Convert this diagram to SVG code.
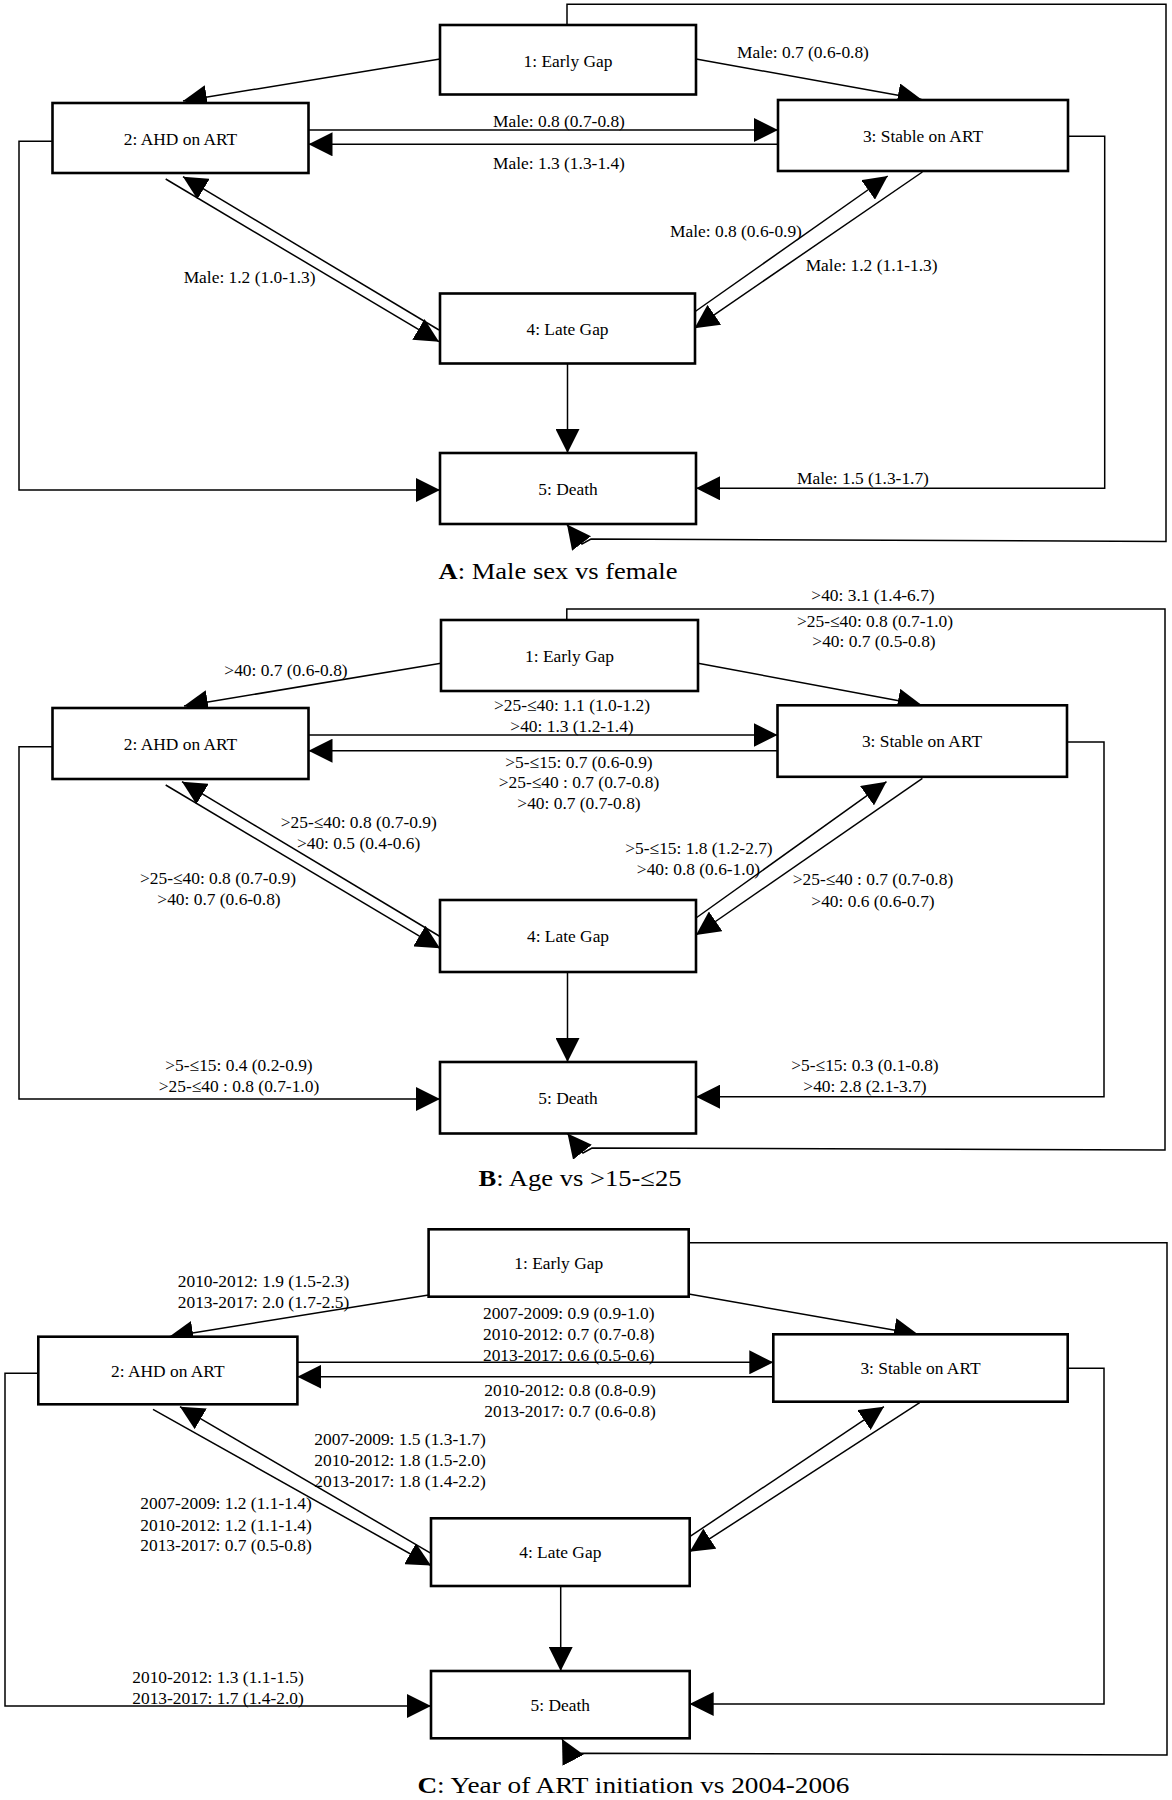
<svg xmlns="http://www.w3.org/2000/svg" width="1172" height="1800" viewBox="0 0 1172 1800">
<style>
.node rect{fill:#fff;stroke:#000;stroke-width:2.6}
.node text,.lbl{font-family:"Liberation Serif","Times New Roman",serif;font-size:17.4px;text-anchor:middle;fill:#000}
.conn path{fill:none;stroke:#000;stroke-width:1.5;marker-end:url(#ah)}
.title{font-family:"Liberation Serif","Times New Roman",serif;font-size:23.5px;text-anchor:middle;fill:#000}
</style>
<defs>
<marker id="ah" markerUnits="userSpaceOnUse" markerWidth="24" markerHeight="24" viewBox="0 0 24 24" refX="24" refY="12" orient="auto">
<path d="M0,0 L24,12 L0,24 z" fill="#000"/>
</marker>
</defs>
<rect width="1172" height="1800" fill="#fff"/>

<!-- Panel A -->
<g class="conn" id="A-connectors">
<path d="M440,59 L183,101"/>
<path d="M696,59 L921.6,99.5"/>
<path d="M308.5,130 H778"/>
<path d="M778,144.3 H308.5"/>
<path d="M165.7,179 L439,341.7"/>
<path d="M439,330 L183,176.7"/>
<path d="M694.5,312 L887.7,176"/>
<path d="M922.4,172 L694.5,328.3"/>
<path d="M567.5,364 V453"/>
<path d="M52.5,141.3 H19 V490 H440"/>
<path d="M1068,136.3 H1104.7 V488.3 H696"/>
<path d="M567,25 V4.3 H1166 V541.5 L591,539 L582,544 L567,524.5"/>
</g>
<g class="node" id="A-n1"><rect x="440" y="25" width="256" height="69.5"/><text x="568" y="66.5">1: Early Gap</text></g>
<g class="node" id="A-n2"><rect x="52.5" y="103" width="256" height="70"/><text x="180.5" y="144.5">2: AHD on ART</text></g>
<g class="node" id="A-n3"><rect x="778" y="100" width="290" height="71"/><text x="923" y="142">3: Stable on ART</text></g>
<g class="node" id="A-n4"><rect x="440" y="293.5" width="255" height="70"/><text x="567.5" y="335">4: Late Gap</text></g>
<g class="node" id="A-n5"><rect x="440" y="453" width="256" height="71"/><text x="568" y="495">5: Death</text></g>
<g id="A-labels">
<text class="lbl" x="803" y="58">Male: 0.7 (0.6-0.8)</text>
<text class="lbl" x="559" y="126.7">Male: 0.8 (0.7-0.8)</text>
<text class="lbl" x="559" y="169">Male: 1.3 (1.3-1.4)</text>
<text class="lbl" x="249.6" y="282.7">Male: 1.2 (1.0-1.3)</text>
<text class="lbl" x="736" y="237">Male: 0.8 (0.6-0.9)</text>
<text class="lbl" x="871.6" y="270.7">Male: 1.2 (1.1-1.3)</text>
<text class="lbl" x="863" y="484">Male: 1.5 (1.3-1.7)</text>
</g>
<text class="title" x="558" y="579" textLength="239" lengthAdjust="spacingAndGlyphs"><tspan font-weight="bold">A</tspan>: Male sex vs female</text>

<!-- Panel B -->
<g class="conn" id="B-connectors">
<path d="M441,663.3 L184,706"/>
<path d="M698,663.3 L921.6,705"/>
<path d="M308.5,735 H777.5"/>
<path d="M777.5,750.7 H308.5"/>
<path d="M165.7,785 L440,948.3"/>
<path d="M440,936.5 L182,781.7"/>
<path d="M696,918 L886.5,781.7"/>
<path d="M922.4,778.3 L696,935"/>
<path d="M567.5,972 V1062"/>
<path d="M52.5,746.7 H19 V1099 H440"/>
<path d="M1067,742 H1104 V1096.7 H696"/>
<path d="M566.8,620 V609 H1165 V1150 L592,1148 L583,1153 L567.5,1133.5"/>
</g>
<g class="node" id="B-n1"><rect x="441" y="620" width="257" height="71"/><text x="569.5" y="662">1: Early Gap</text></g>
<g class="node" id="B-n2"><rect x="52.5" y="708" width="256" height="71"/><text x="180.5" y="750">2: AHD on ART</text></g>
<g class="node" id="B-n3"><rect x="777.5" y="705.3" width="289.5" height="71.5"/><text x="922" y="747">3: Stable on ART</text></g>
<g class="node" id="B-n4"><rect x="440" y="900" width="256" height="72"/><text x="568" y="942">4: Late Gap</text></g>
<g class="node" id="B-n5"><rect x="440" y="1062" width="256" height="71.5"/><text x="568" y="1103.5">5: Death</text></g>
<g id="B-labels">
<text class="lbl" x="873" y="600.7">&gt;40: 3.1 (1.4-6.7)</text>
<text class="lbl" x="875" y="626.7">&gt;25-≤40: 0.8 (0.7-1.0)</text>
<text class="lbl" x="874" y="647.3">&gt;40: 0.7 (0.5-0.8)</text>
<text class="lbl" x="286" y="676">&gt;40: 0.7 (0.6-0.8)</text>
<text class="lbl" x="572" y="711">&gt;25-≤40: 1.1 (1.0-1.2)</text>
<text class="lbl" x="572" y="732.3">&gt;40: 1.3 (1.2-1.4)</text>
<text class="lbl" x="579" y="767.7">&gt;5-≤15: 0.7 (0.6-0.9)</text>
<text class="lbl" x="579" y="788.3">&gt;25-≤40 : 0.7 (0.7-0.8)</text>
<text class="lbl" x="579" y="809.3">&gt;40: 0.7 (0.7-0.8)</text>
<text class="lbl" x="358.8" y="828.3">&gt;25-≤40: 0.8 (0.7-0.9)</text>
<text class="lbl" x="358.6" y="849.3">&gt;40: 0.5 (0.4-0.6)</text>
<text class="lbl" x="699" y="854">&gt;5-≤15: 1.8 (1.2-2.7)</text>
<text class="lbl" x="698.5" y="875">&gt;40: 0.8 (0.6-1.0)</text>
<text class="lbl" x="218" y="884">&gt;25-≤40: 0.8 (0.7-0.9)</text>
<text class="lbl" x="219" y="905">&gt;40: 0.7 (0.6-0.8)</text>
<text class="lbl" x="873" y="885">&gt;25-≤40 : 0.7 (0.7-0.8)</text>
<text class="lbl" x="873" y="906.5">&gt;40: 0.6 (0.6-0.7)</text>
<text class="lbl" x="239" y="1070.7">&gt;5-≤15: 0.4 (0.2-0.9)</text>
<text class="lbl" x="239" y="1091.7">&gt;25-≤40 : 0.8 (0.7-1.0)</text>
<text class="lbl" x="865" y="1070.7">&gt;5-≤15: 0.3 (0.1-0.8)</text>
<text class="lbl" x="865" y="1091.7">&gt;40: 2.8 (2.1-3.7)</text>
</g>
<text class="title" x="580" y="1186" textLength="203" lengthAdjust="spacingAndGlyphs"><tspan font-weight="bold">B</tspan>: Age vs &gt;15-≤25</text>

<!-- Panel C -->
<g class="conn" id="C-connectors">
<path d="M428.6,1295 L169.2,1336.7"/>
<path d="M688.7,1294 L917.9,1334.3"/>
<path d="M297.4,1362.3 H773.3"/>
<path d="M773.3,1376.7 H297.4"/>
<path d="M153,1409.3 L431,1565.5"/>
<path d="M431,1553.3 L180,1406.7"/>
<path d="M689.7,1536.7 L883.9,1406.7"/>
<path d="M919.7,1402.7 L689.7,1551.7"/>
<path d="M560.7,1586 V1671"/>
<path d="M38.3,1373.3 H5 V1706 H431"/>
<path d="M1067.7,1368.3 H1104 V1704 H689.7"/>
<path d="M688.7,1242.7 H1167 V1755 L581,1753.3 L572,1758 L562,1739"/>
</g>
<g class="node" id="C-n1"><rect x="428.6" y="1229.3" width="260.1" height="67.4"/><text x="558.7" y="1269.3">1: Early Gap</text></g>
<g class="node" id="C-n2"><rect x="38.3" y="1336.7" width="259.1" height="67.6"/><text x="167.8" y="1376.7">2: AHD on ART</text></g>
<g class="node" id="C-n3"><rect x="773.3" y="1334.3" width="294.4" height="67.4"/><text x="920.5" y="1374">3: Stable on ART</text></g>
<g class="node" id="C-n4"><rect x="431" y="1518.3" width="258.7" height="67.7"/><text x="560.3" y="1558.3">4: Late Gap</text></g>
<g class="node" id="C-n5"><rect x="431" y="1671" width="258.7" height="67.3"/><text x="560.3" y="1710.7">5: Death</text></g>
<g id="C-labels">
<text class="lbl" x="263.5" y="1287.3">2010-2012: 1.9 (1.5-2.3)</text>
<text class="lbl" x="263.5" y="1308.3">2013-2017: 2.0 (1.7-2.5)</text>
<text class="lbl" x="568.7" y="1319.3">2007-2009: 0.9 (0.9-1.0)</text>
<text class="lbl" x="568.7" y="1340">2010-2012: 0.7 (0.7-0.8)</text>
<text class="lbl" x="568.7" y="1360.7">2013-2017: 0.6 (0.5-0.6)</text>
<text class="lbl" x="570" y="1395.7">2010-2012: 0.8 (0.8-0.9)</text>
<text class="lbl" x="570" y="1416.7">2013-2017: 0.7 (0.6-0.8)</text>
<text class="lbl" x="400" y="1445">2007-2009: 1.5 (1.3-1.7)</text>
<text class="lbl" x="400" y="1466">2010-2012: 1.8 (1.5-2.0)</text>
<text class="lbl" x="400" y="1486.7">2013-2017: 1.8 (1.4-2.2)</text>
<text class="lbl" x="226" y="1509.3">2007-2009: 1.2 (1.1-1.4)</text>
<text class="lbl" x="226" y="1530.7">2010-2012: 1.2 (1.1-1.4)</text>
<text class="lbl" x="226" y="1550.7">2013-2017: 0.7 (0.5-0.8)</text>
<text class="lbl" x="218" y="1683.3">2010-2012: 1.3 (1.1-1.5)</text>
<text class="lbl" x="218" y="1704">2013-2017: 1.7 (1.4-2.0)</text>
</g>
<text class="title" x="633.4" y="1793" textLength="432" lengthAdjust="spacingAndGlyphs"><tspan font-weight="bold">C</tspan>: Year of ART initiation vs 2004-2006</text>
</svg>
